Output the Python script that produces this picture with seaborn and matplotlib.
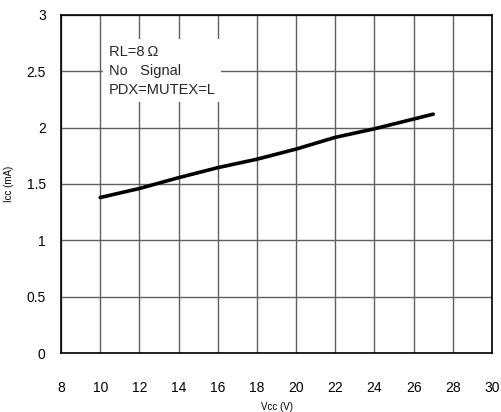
import matplotlib
matplotlib.use("Agg")
import matplotlib.pyplot as plt
import seaborn as sns
import pandas as pd

vcc = [10, 12, 14, 16, 18, 20, 22, 24, 27]
icc = [1.38, 1.46, 1.556, 1.645, 1.72, 1.81, 1.914, 1.99, 2.12]
x_ticks = [8, 10, 12, 14, 16, 18, 20, 22, 24, 26, 28, 30]
y_ticks = [0, 0.5, 1, 1.5, 2, 2.5, 3]
y_tick_labels = ["0", "0.5", "1", "1.5", "2", "2.5", "3"]
note_lines = ["RL=8\u2009Ω", "No   Signal", "PDX=MUTEX=L"]

sns.set_theme(style="white")
plt.rcParams['font.family'] = ['Liberation Sans', 'DejaVu Sans']

df = pd.DataFrame({"Vcc": vcc, "Icc": icc})

fig = plt.figure(figsize=(5.01, 4.12), dpi=100)
ax = fig.add_axes([0.1218, 0.1432, 0.982 - 0.1218, 0.9636 - 0.1432])

sns.lineplot(data=df, x="Vcc", y="Icc", ax=ax, color="black", linewidth=2.6, zorder=5)

ax.set_xlim(8, 30)
ax.set_ylim(0, 3)
ax.set_xticks(x_ticks)
ax.set_xticklabels([str(t) for t in x_ticks])
ax.set_yticks(y_ticks)
ax.set_yticklabels(y_tick_labels)
ax.grid(True, color="#606060", linewidth=1.0)
ax.set_axisbelow(True)
for s in ax.spines.values():
    s.set_color("black")
    s.set_linewidth(1.2)
ax.tick_params(axis="x", length=0, pad=20, labelsize=10, colors="black")
ax.tick_params(axis="y", length=0, pad=11, labelsize=10, colors="black")

ax.set_xlabel("Vcc (V)", fontsize=7, labelpad=5, color="black")
ax.set_ylabel("Icc (mA)", fontsize=7, labelpad=9, color="black")

ax.text(0.111, 0.912, "\n".join(note_lines), transform=ax.transAxes,
        fontsize=10.5, va="top", ha="left", linespacing=1.45, zorder=6,
        bbox=dict(facecolor="white", edgecolor="none", pad=4))

fig.savefig("out.png", dpi=100)
